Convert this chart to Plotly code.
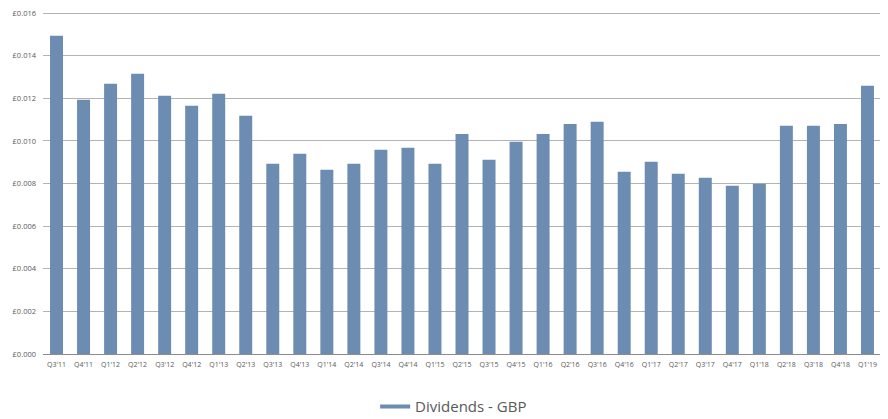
import plotly.graph_objects as go

quarters = ["Q3'11", "Q4'11", "Q1'12", "Q2'12", "Q3'12", "Q4'12", "Q1'13", "Q2'13",
            "Q3'13", "Q4'13", "Q1'14", "Q2'14", "Q3'14", "Q4'14", "Q1'15", "Q2'15",
            "Q3'15", "Q4'15", "Q1'16", "Q2'16", "Q3'16", "Q4'16", "Q1'17", "Q2'17",
            "Q3'17", "Q4'17", "Q1'18", "Q2'18", "Q3'18", "Q4'18", "Q1'19"]
dividends_gbp = [0.01494, 0.01193, 0.01268, 0.01315, 0.01212, 0.01165, 0.01221, 0.01118,
                 0.00893, 0.00940, 0.00865, 0.00893, 0.00959, 0.00968, 0.00893, 0.01033,
                 0.00912, 0.00996, 0.01033, 0.01080, 0.01090, 0.00856, 0.00902, 0.00846,
                 0.00827, 0.00790, 0.00799, 0.01071, 0.01071, 0.01080, 0.01259]
y_ticks = [0.000, 0.002, 0.004, 0.006, 0.008, 0.010, 0.012, 0.014, 0.016]
y_tick_labels = ["\u00a30.000", "\u00a30.002", "\u00a30.004", "\u00a30.006", "\u00a30.008",
                 "\u00a30.010", "\u00a30.012", "\u00a30.014", "\u00a30.016"]
series_name = "Dividends - GBP"

bar_color = "#6d8cb2"
text_color = "#595959"

fig = go.Figure()
fig.add_trace(go.Bar(x=quarters, y=dividends_gbp, marker_color=bar_color,
                     marker_line_width=0, showlegend=False, name=series_name))
fig.add_trace(go.Scatter(x=[None], y=[None], mode="lines", name=series_name,
                         line=dict(color=bar_color, width=4)))

fig.update_layout(
    width=880, height=411,
    margin=dict(l=35, r=7, t=3, b=65, autoexpand=False),
    paper_bgcolor="white", plot_bgcolor="white",
    bargap=0.52,
    font=dict(family="Open Sans, sans-serif", color=text_color),
    showlegend=True,
    legend=dict(orientation="h", x=0.49, xanchor="center",
                yref="container", y=0.03, yanchor="middle",
                font=dict(size=15, color=text_color), itemwidth=30),
)
fig.update_xaxes(showgrid=False, showline=True, linecolor="#8c8c8c", linewidth=1,
                 tickfont=dict(size=7, color=text_color), ticks="", tickangle=0,
                 ticklabelstandoff=4, automargin=False)
fig.update_yaxes(range=[0, 0.0161], tickvals=y_ticks, ticktext=y_tick_labels,
                 showgrid=True, gridcolor="#b3b3b3", gridwidth=1, zeroline=False,
                 showline=False, tickfont=dict(size=7.5, color=text_color),
                 ticklabelstandoff=6, automargin=False, ticklabeloverflow="allow")

fig.write_html("out.html")
